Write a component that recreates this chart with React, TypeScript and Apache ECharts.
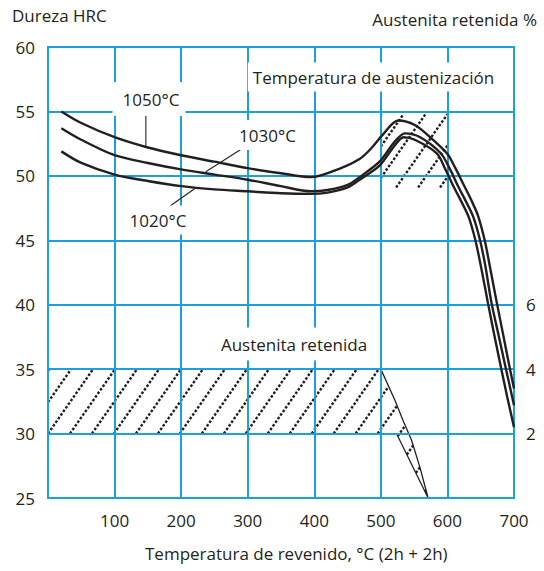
import React, { useEffect, useRef } from "react";
import * as echarts from "echarts";

const FONT = "'Open Sans', Lato, sans-serif";
const INK = "#231f20";
const BLUE = "#1ba0dc";

// Tempering temperature (°C) vs hardness (HRC) for three austenitizing temperatures
const curve1050: number[][] = [
  [20, 55.0], [50, 54.1], [100, 53.0], [150, 52.2], [200, 51.6], [250, 51.1], [300, 50.6],
  [350, 50.2], [395, 49.9], [440, 50.6], [468, 51.3], [485, 52.1], [503, 53.2], [526, 54.3],
  [551, 53.95], [574, 53.0], [600, 51.7], [612, 50.6], [624, 49.35], [636, 48.1], [646, 46.9],
  [656, 45.0], [664, 42.9], [674, 40.2], [684, 37.6], [694, 35.0], [700, 33.5],
];
const curve1030: number[][] = [
  [20, 53.7], [50, 52.8], [100, 51.6], [150, 51.0], [200, 50.5], [250, 50.1], [300, 49.7],
  [350, 49.2], [395, 48.8], [420, 48.9], [450, 49.3], [468, 49.9], [498, 51.1], [520, 52.6],
  [536, 53.3], [559, 53.0], [590, 51.75], [604, 50.5], [616, 49.2], [628, 48.0], [639, 46.8],
  [649, 45.0], [657, 43.0], [666, 40.2], [677, 37.6], [688, 35.0], [700, 32.2],
];
const curve1020: number[][] = [
  [20, 51.9], [50, 51.0], [100, 50.1], [150, 49.6], [200, 49.2], [250, 48.95], [300, 48.8],
  [350, 48.65], [395, 48.6], [420, 48.7], [450, 49.1], [468, 49.7], [498, 50.8], [520, 52.3],
  [534, 53.0], [551, 52.8], [584, 51.75], [597, 50.5], [609, 49.2], [621, 48.0], [632, 46.8],
  [642, 45.0], [651, 42.8], [661, 40.1], [671, 37.5], [681, 35.0], [690, 32.8], [700, 30.5],
];

// Retained austenite band (in HRC-axis units: 2 % = 30, 4 % = 35)
const austeniteBand: number[][] = [
  [0, 30], [0, 35], [500, 35], [521, 32.6], [533.5, 31.0], [546, 29.5], [558.6, 27.4],
  [571, 25], [523.5, 30],
];
// Hatched zone of the austenitizing peak
const peakZone: number[][] = [[500, 49.1], [500, 54.8], [600, 54.8], [600, 49.1]];
const hatchRegions = [austeniteBand, peakZone];

const xTickMin = 0, xTickMax = 700, xTickStep = 100;
const yTickMin = 25, yTickMax = 60, yTickStep = 5;
const rightTickLabels = [2, 4, 6];

const labelTexts = ["1050°C", "1030°C", "1020°C", "Temperatura de austenización", "Austenita retenida"];
const labelAnchors: number[][] = [
  [151.7, 55.96], [329.7, 53.17], [165.2, 46.57], [488.2, 57.67], [369.5, 36.95],
];
const labelPadding: number[][] = [
  [7, 6, 10, 10], [5, 6, 8, 6], [7, 6, 5, 6], [6, 4, 6, 5], [7, 6, 9, 6],
];
const leaderLines: number[][] = [
  [147, 55.3, 147, 52.3],
  [296, 52.26, 237, 50.32],
  [183.3, 47.66, 223.4, 49.11],
];

function hatchSegments(pts: number[][], spacing: number, angleDeg: number) {
  const th = (angleDeg * Math.PI) / 180;
  const n = [Math.sin(th), Math.cos(th)];
  const d = [Math.cos(th), -Math.sin(th)];
  const proj = pts.map((p) => p[0] * n[0] + p[1] * n[1]);
  const cmin = Math.min(...proj);
  const cmax = Math.max(...proj);
  const segs: number[][][] = [];
  for (let k = Math.ceil(cmin / spacing); k * spacing <= cmax; k++) {
    const c = k * spacing;
    const ss: number[] = [];
    for (let i = 0; i < pts.length; i++) {
      const j = (i + 1) % pts.length;
      const fa = proj[i] - c;
      const fb = proj[j] - c;
      if (fa < 0 !== fb < 0) {
        const t = fa / (fa - fb);
        const x = pts[i][0] + t * (pts[j][0] - pts[i][0]);
        const y = pts[i][1] + t * (pts[j][1] - pts[i][1]);
        ss.push(x * d[0] + y * d[1]);
      }
    }
    ss.sort((a, b) => a - b);
    for (let m = 0; m + 1 < ss.length; m += 2) {
      segs.push([
        [c * n[0] + ss[m] * d[0], c * n[1] + ss[m] * d[1]],
        [c * n[0] + ss[m + 1] * d[0], c * n[1] + ss[m + 1] * d[1]],
      ]);
    }
  }
  return segs;
}

const lineSeries = (data: number[][]) => ({
  type: "line",
  data,
  smooth: 0.3,
  showSymbol: false,
  z: 4,
  lineStyle: { color: INK, width: 2.4 },
  itemStyle: { color: INK },
  silent: true,
});

export default function App() {
  const ref = useRef<HTMLDivElement>(null);
  useEffect(() => {
    if (!ref.current) return;
    const chart = echarts.init(ref.current, undefined, { renderer: "svg" });
    const axisText = { color: INK, fontSize: 17, fontFamily: FONT };
    const option: any = {
      animation: false,
      grid: { left: 48, right: 30, top: 47, bottom: 73, show: true, borderColor: BLUE, borderWidth: 2 },
      xAxis: {
        type: "value", min: xTickMin, max: xTickMax, interval: xTickStep, z: 3,
        axisLine: { show: true, lineStyle: { color: BLUE, width: 2 } },
        axisTick: { show: false },
        splitLine: { show: true, lineStyle: { color: BLUE, width: 2 } },
        axisLabel: { ...axisText, margin: 14, formatter: (v: number) => (v === 0 ? "" : String(v)) },
      },
      yAxis: [
        {
          type: "value", min: yTickMin, max: yTickMax, interval: yTickStep, z: 3,
          axisLine: { show: true, lineStyle: { color: BLUE, width: 2 } },
          axisTick: { show: false },
          splitLine: { show: true, lineStyle: { color: BLUE, width: 2 } },
          axisLabel: { ...axisText, margin: 13 },
        },
        {
          type: "value", position: "right", min: 0, max: 14, interval: 2,
          axisLine: { show: false }, axisTick: { show: false }, splitLine: { show: false },
          axisLabel: {
            ...axisText, margin: 12,
            formatter: (v: number) => (rightTickLabels.includes(v) ? String(v) : ""),
          },
        },
      ],
      graphic: [
        { type: "text", left: 12, top: 7, style: { text: "Dureza HRC", fill: INK, font: `17px ${FONT}` } },
        { type: "text", right: 7, top: 11, style: { text: "Austenita retenida %", fill: INK, font: `17px ${FONT}` } },
        { type: "text", left: 145, top: 545, style: { text: "Temperatura de revenido, °C (2h + 2h)", fill: INK, font: `17px ${FONT}` } },
      ],
      series: [
        {
          type: "custom",
          z: 2,
          silent: true,
          data: hatchRegions.map((r) => [r[0][0], r[0][1]]),
          renderItem: (params: any, api: any) => {
            const poly = hatchRegions[params.dataIndex].map((p) => api.coord(p));
            const children: any[] = hatchSegments(poly, 18, 55).map((s) => ({
              type: "line",
              shape: { x1: s[0][0], y1: s[0][1], x2: s[1][0], y2: s[1][1] },
              style: { stroke: INK, lineWidth: 2.4, lineDash: [2.6, 1.8] },
            }));
            if (params.dataIndex === 0) {
              children.push({
                type: "polygon",
                shape: { points: poly },
                style: { fill: "none", stroke: INK, lineWidth: 1.3 },
              });
            }
            return { type: "group", children };
          },
        },
        lineSeries(curve1050),
        lineSeries(curve1030),
        lineSeries(curve1020),
        {
          type: "custom",
          z: 6,
          silent: true,
          data: leaderLines,
          encode: { x: [0, 2], y: [1, 3] },
          renderItem: (params: any, api: any) => {
            const a = api.coord([api.value(0), api.value(1)]);
            const b = api.coord([api.value(2), api.value(3)]);
            return {
              type: "line",
              shape: { x1: a[0], y1: a[1], x2: b[0], y2: b[1] },
              style: { stroke: INK, lineWidth: 1.1 },
            };
          },
        },
        {
          type: "custom",
          z: 7,
          silent: true,
          data: labelAnchors,
          renderItem: (params: any, api: any) => {
            const p = api.coord([api.value(0), api.value(1)]);
            return {
              type: "text",
              x: p[0],
              y: p[1],
              style: {
                text: labelTexts[params.dataIndex],
                fill: INK,
                font: `17px ${FONT}`,
                align: "center",
                verticalAlign: "middle",
                textAlign: "center",
                textVerticalAlign: "middle",
                backgroundColor: "#ffffff",
                padding: labelPadding[params.dataIndex],
              },
            };
          },
        },
      ],
    };
    chart.setOption(option);
    return () => chart.dispose();
  }, []);
  return (
    <div
      ref={ref}
      style={{ position: "absolute", left: 0, top: 0, width: 544, height: 571 }}
    />
  );
}
